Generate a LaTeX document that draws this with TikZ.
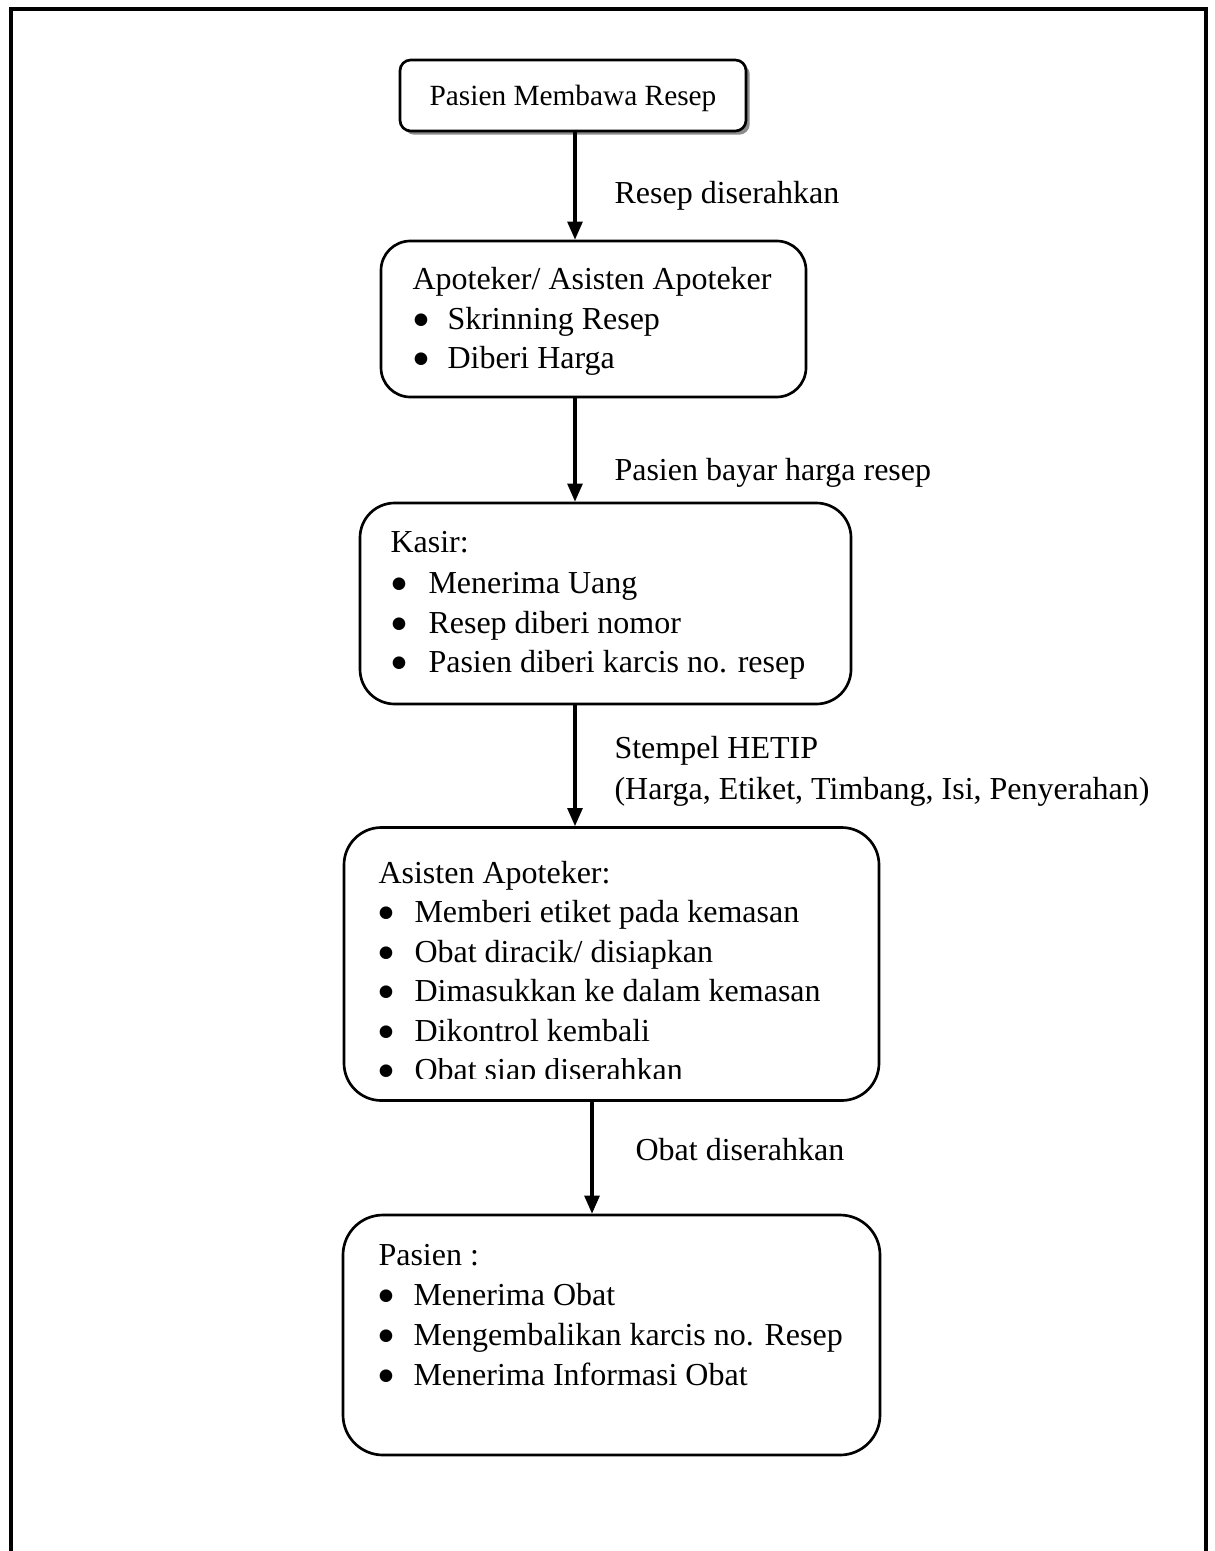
\documentclass[tikz,border=0pt]{standalone}
\usepackage{fontspec}
\setmainfont{Liberation Serif}
\newfontfamily\markfont{DejaVu Sans}
\usetikzlibrary{arrows.meta,shadows}
\begin{document}
\begin{tikzpicture}[x=0.375pt,y=-0.375pt,
  box/.style={draw,line width=1pt,rounded corners=#1,inner sep=0pt},
  box/.default=11pt,
  txt/.style={anchor=base west,inner sep=0pt,font=\fontsize{12}{14}\selectfont},
  bul/.style={anchor=base,inner sep=0pt,font=\markfont\fontsize{6.2}{7}\selectfont},
  flow/.style={line width=1.2pt,-{Triangle[length=6.8pt,width=5.6pt]}},
  frameline/.style={line width=1.5pt,line join=miter}]
\useasboundingbox (0,0) rectangle (1214,1551);
% list bullet: a small solid disc lifted to the middle of the x-height
\newcommand\dotmark{\raisebox{1.7pt}{●}}

% outer frame, open at the bottom
\draw[frameline] (11,1551) -- (11,9) -- (1206,9) -- (1206,1551);

% start box with drop shadow
\node[box=4pt,fill=white,minimum width=346*0.375pt,minimum height=71*0.375pt,
  drop shadow={shadow xshift=1.4pt,shadow yshift=-1.4pt,fill=black!45,opacity=1}]
  (b1) at (573,95.5) {};
\node[anchor=base,inner sep=0pt,font=\fontsize{11}{13}\selectfont] (t1) at (573,106) {Pasien Membawa Resep};

% process boxes
\node[box=11pt,minimum width=425*0.375pt,minimum height=156*0.375pt] (b2) at (593.5,319) {};
\node[box=13pt,minimum width=491*0.375pt,minimum height=201*0.375pt] (b3) at (605.5,603.5) {};
\node[box=14pt,minimum width=535*0.375pt,minimum height=273*0.375pt] (b4) at (611.5,964) {};
\node[box=15pt,minimum width=537*0.375pt,minimum height=240*0.375pt] (b5) at (611.5,1335) {};

% box 2 text
\node[txt] (h2) at (412,289) {Apoteker/ Asisten Apoteker};
\node[bul] (p21) at (421,329) {\dotmark};
\node[txt] (l21) at (447,329) {Skrinning Resep};
\node[bul] (p22) at (421,368) {\dotmark};
\node[txt] (l22) at (447,368) {Diberi Harga};

% box 3 text
\node[txt] (h3) at (390,552) {Kasir:};
\node[bul] (p31) at (399,593) {\dotmark};
\node[txt] (l31) at (428,593) {Menerima Uang};
\node[bul] (p32) at (399,633) {\dotmark};
\node[txt] (l32) at (428,633) {Resep diberi nomor};
\node[bul] (p33) at (399,672) {\dotmark};
\node[txt] (l33) at (428,672) {Pasien diberi karcis no. resep};

% box 4 text (last line cut off at its foot)
\node[txt] (h4) at (378,883) {Asisten Apoteker:};
\node[bul] (p41) at (386,922) {\dotmark};
\node[txt] (l41) at (414,922) {Memberi etiket pada kemasan};
\node[bul] (p42) at (386,962) {\dotmark};
\node[txt] (l42) at (414,962) {Obat diracik/ disiapkan};
\node[bul] (p43) at (386,1001) {\dotmark};
\node[txt] (l43) at (414,1001) {Dimasukkan ke dalam kemasan};
\node[bul] (p44) at (386,1041) {\dotmark};
\node[txt] (l44) at (414,1041) {Dikontrol kembali};
\begin{scope}
  \clip (350,1058) rectangle (870,1078);
  \node[bul] (p45) at (386,1080) {\dotmark};
  \node[txt] (l45) at (414,1080) {Obat siap diserahkan};
\end{scope}

% box 5 text
\node[txt] (h5) at (378,1265) {Pasien :};
\node[bul] (p51) at (386,1305) {\dotmark};
\node[txt] (l51) at (413,1305) {Menerima Obat};
\node[bul] (p52) at (386,1345) {\dotmark};
\node[txt] (l52) at (413,1345) {Mengembalikan karcis no. Resep};
\node[bul] (p53) at (386,1385) {\dotmark};
\node[txt] (l53) at (413,1385) {Menerima Informasi Obat};

% connector columns
\coordinate (c1) at (575,0);
\coordinate (c2) at (592,0);

\draw[flow] (b1.south -| c1) -- (b2.north -| c1);
\draw[flow] (b2.south -| c1) -- (b3.north -| c1);
\draw[flow] (b3.south -| c1) -- (b4.north -| c1);
\draw[flow] (b4.south -| c2) -- (b5.north -| c2);

% connector labels
\node[txt] (a1) at (614,204) {Resep diserahkan};
\node[txt] (a2) at (614,480) {Pasien bayar harga resep};
\node[txt] (a3) at (614,758) {Stempel HETIP};
\node[txt] (a3b) at (614,799) {(Harga, Etiket, Timbang, Isi, Penyerahan)};
\node[txt] (a4) at (635,1160) {Obat diserahkan};
\end{tikzpicture}
\end{document}
